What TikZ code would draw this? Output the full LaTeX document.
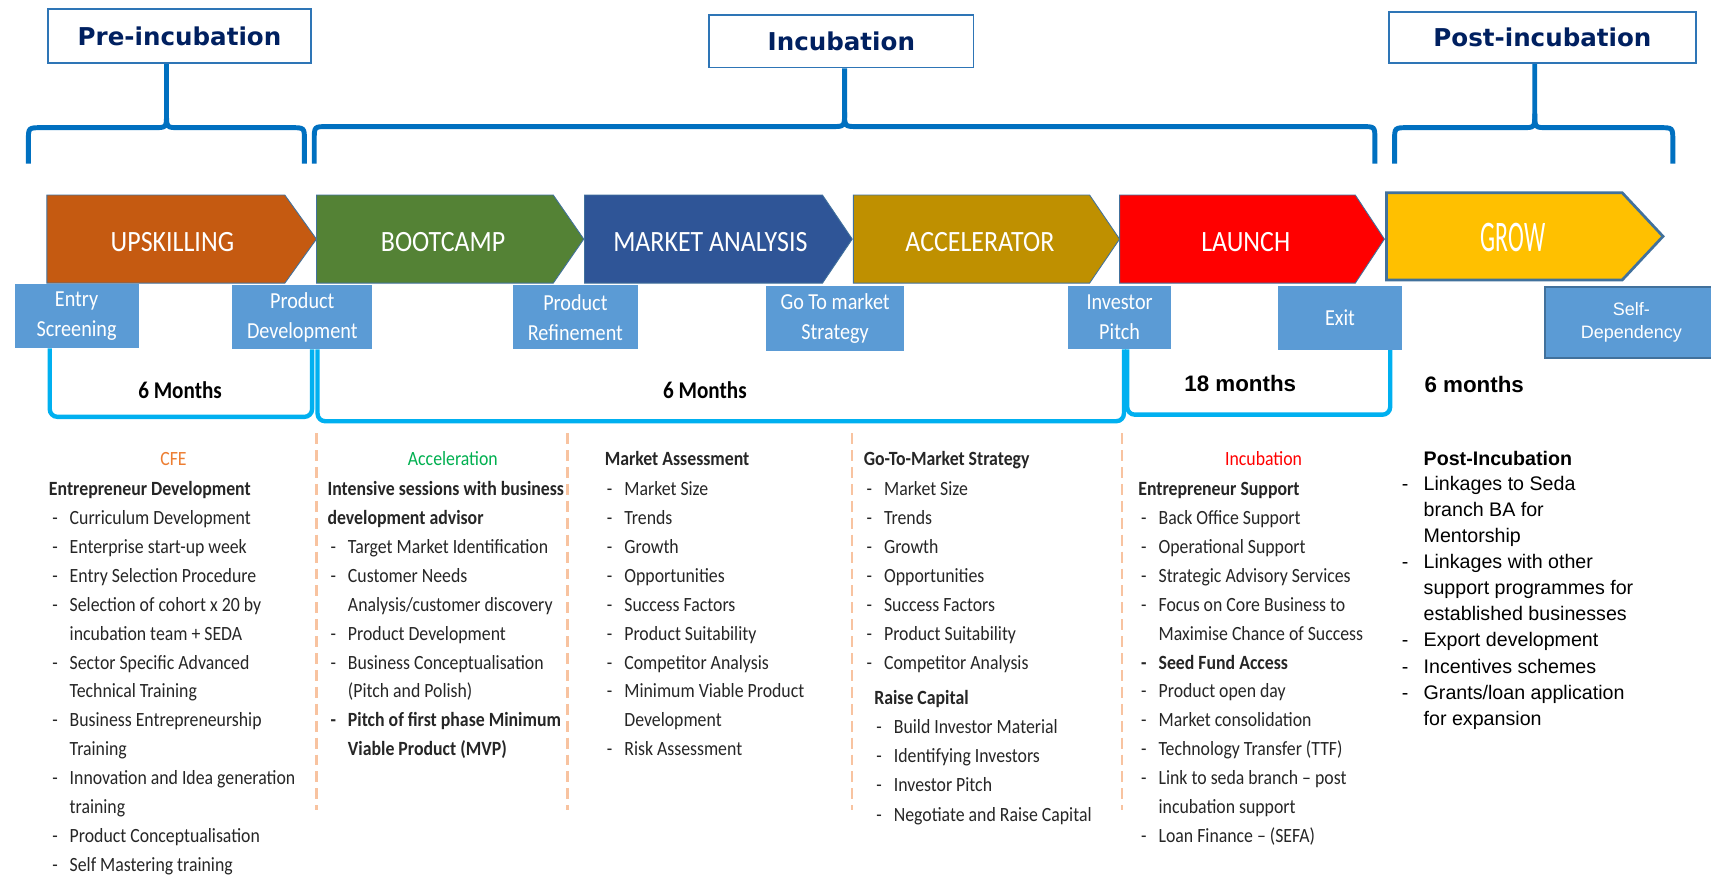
\documentclass[tikz,border=0pt]{standalone}
\usepackage{fontspec}
\usepackage{graphicx}
\setmainfont{Carlito}
\newfontfamily\calf[FakeStretch=0.88]{Carlito}
\newfontfamily\ari{Liberation Sans}
\newfontfamily\dvs{DejaVu Sans}
\definecolor{hdrblue}{HTML}{0070C0}
\definecolor{boxblue}{HTML}{2E75B6}
\definecolor{navy}{HTML}{002060}
\definecolor{cUp}{HTML}{C55A11}
\definecolor{cBoot}{HTML}{548235}
\definecolor{cMkt}{HTML}{2F5597}
\definecolor{cAcc}{HTML}{BF9000}
\definecolor{cLaunch}{HTML}{FF0000}
\definecolor{cGrow}{HTML}{FFC000}
\definecolor{edge}{HTML}{41719C}
\definecolor{msblue}{HTML}{5B9BD5}
\definecolor{cyanb}{HTML}{00B0F0}
\definecolor{dashor}{HTML}{F8C3A0}
\definecolor{cfe}{HTML}{ED7D31}
\definecolor{accg}{HTML}{00B050}
\newcounter{ln}
\newcommand\Ln[4][itm]{\stepcounter{ln}\node[#1,anchor=base west] (ln\theln) at (#2,#3) {#4};}
\newcommand\Dsh{\llap{-\hspace{11pt}}}
\newcommand\DshA{\llap{-\hspace{14pt}}}
\newcommand\chev[7]{\filldraw[fill=#6, draw=edge, line width=#7] (#1,#4) -- (#2,#4) -- (#3,{(#4+#5)/2}) -- (#2,#5) -- (#1,#5) -- cycle;}
\tikzset{
  hdr/.style={draw=boxblue, line width=1.5pt, fill=white, inner sep=0pt, text=navy, font=\dvs\bfseries\fontsize{22.5}{27}\selectfont},
  brc/.style={draw=hdrblue, line width=4.5pt},
  chevtxt/.style={text=white, inner sep=0pt, font=\calf\fontsize{27}{30}\selectfont},
  mstone/.style={fill=msblue, text=white, inner sep=0pt, align=center, font=\calf\fontsize{21}{27.5}\selectfont},
  cyb/.style={draw=cyanb, line width=4pt, rounded corners=7pt},
  dur/.style={inner sep=0pt, font=\calf\bfseries\fontsize{22}{26}\selectfont},
  durA/.style={inner sep=0pt, font=\ari\bfseries\fontsize{20.5}{24}\selectfont},
  colsep/.style={draw=dashor, line width=2pt, dash pattern=on 10pt off 5.5pt},
  itm/.style={inner sep=0pt, text=black!85, font=\calf\fontsize{18.5}{20}\selectfont},
  itmB/.style={itm, font=\calf\bfseries\fontsize{18.5}{20}\selectfont},
  itmA/.style={inner sep=0pt, text=black, font=\ari\fontsize{18}{20}\selectfont},
  itmAB/.style={itmA, font=\ari\bfseries\fontsize{18}{20}\selectfont},
}
\begin{document}
\begin{tikzpicture}[x=1pt,y=-1pt]
\useasboundingbox (0,0) rectangle (1568,804);
\fill[white] (0,0) rectangle (1568,804);

% header boxes
\node[hdr, minimum width=241, minimum height=50] (pre) at (164.5,33) {Pre-incubation};
\node[hdr, minimum width=242, minimum height=48] (inc) at (771,38) {Incubation};
\node[hdr, minimum width=281, minimum height=47] (post) at (1413.5,34.4) {Post-incubation};

% braces
\coordinate (preS) at (152.6,100);
\draw[brc] (26,150) -- (26,129) .. controls (26,117) .. (38,117) -- (140.6,117) .. controls (152.6,117) .. (152.6,104) -- (pre.south -| preS);
\draw[brc] (152.6,104) .. controls (152.6,117) .. (164.6,117) -- (267,117) .. controls (279,117) .. (279,129) -- (279,150);
\coordinate (incS) at (774,100);
\draw[brc] (288,150) -- (288,128) .. controls (288,116) .. (300,116) -- (762,116) .. controls (774,116) .. (774,103) -- (inc.south -| incS);
\draw[brc] (774,103) .. controls (774,116) .. (786,116) -- (1248,116) .. controls (1260,116) .. (1260,128) -- (1260,150);
\coordinate (postS) at (1406.5,100);
\draw[brc] (1278,150) -- (1278,129) .. controls (1278,117) .. (1290,117) -- (1394.5,117) .. controls (1406.5,117) .. (1406.5,104) -- (post.south -| postS);
\draw[brc] (1406.5,104) .. controls (1406.5,117) .. (1418.5,117) -- (1521,117) .. controls (1533,117) .. (1533,129) -- (1533,150);

% chevrons
\chev{43}{261}{290}{178.7}{259.5}{cUp}{0.8pt}
\chev{290}{507}{535}{178.7}{259.5}{cBoot}{0.8pt}
\chev{535.6}{753.7}{781}{178.7}{259.5}{cMkt}{0.8pt}
\chev{782}{998.5}{1026}{178.7}{259.5}{cAcc}{0.8pt}
\chev{1026}{1242}{1268.7}{178.7}{259.5}{cLaunch}{0.8pt}
\chev{1270.5}{1486.6}{1524}{176.6}{256.6}{cGrow}{2.5pt}
\node[chevtxt] (upsk) at (158,222) {UPSKILLING};
\node[chevtxt] (boot) at (406,222) {BOOTCAMP};
\node[chevtxt] (mkt) at (651,222) {MARKET ANALYSIS};
\node[chevtxt] (accel) at (898,222) {ACCELERATOR};
\node[chevtxt] (launch) at (1141.6,222) {LAUNCH};
\node[inner sep=0pt, text=white, font=\calf\fontsize{40}{44}\selectfont] (grow) at (1386.6,217.5) {\scalebox{0.62}[1]{GROW}};

% milestone boxes
\node[mstone, minimum width=113.7, minimum height=59] (entry) at (70.2,289.5) {Entry\\Screening};
\node[mstone, minimum width=128, minimum height=58.5] (pdev) at (277,290.8) {Product\\Development};
\node[mstone, minimum width=114.7, minimum height=58.5] (pref) at (527.3,290.8) {Product\\Refinement};
\node[mstone, minimum width=126.5, minimum height=60] (gtm) at (765.3,292) {Go To market\\Strategy};
\node[mstone, minimum width=94, minimum height=58] (inv) at (1026,291) {Investor\\Pitch};
\node[mstone, minimum width=114, minimum height=58.7] (exit) at (1228,291.3) {Exit};
\node[mstone, draw=edge, line width=2pt, minimum width=158, minimum height=65.3, font=\ari\fontsize{16.5}{20.5}\selectfont] (selfdep) at (1495,295.4) {Self-\\Dependency};

% duration brackets
\coordinate (b1l) at (45.6,382); \coordinate (b1r) at (286,382);
\draw[cyb] (entry.south -| b1l) -- (b1l) -- (b1r) -- (pdev.south -| b1r);
\coordinate (b2l) at (291,386); \coordinate (b2r) at (1030,386);
\draw[cyb] (pdev.south -| b2l) -- (b2l) -- (b2r) -- (inv.south -| b2r);
\coordinate (b3l) at (1033,380); \coordinate (b3r) at (1274,380);
\draw[cyb] (inv.south -| b3l) -- (b3l) -- (b3r) -- (exit.south -| b3r);

\node[dur] (d1) at (165,358) {6 Months};
\node[dur] (d2) at (646,358) {6 Months};
\node[durA] (d3) at (1136.6,351) {18 months};
\node[durA] (d4) at (1351,352) {6 months};

% column separators
\draw[colsep] (290,397) -- (290,742);
\draw[colsep] (520,397) -- (520,742);
\draw[colsep] (781,397) -- (781,742);
\draw[colsep] (1028,397) -- (1028,742);

% column 1
\node[itm, text=cfe, anchor=base] (cfe) at (159,427) {CFE};
\Ln[itmB]{44.7}{454.5}{Entrepreneur Development}
\Ln{63.7}{480.9}{\Dsh Curriculum Development}
\Ln{63.7}{507.4}{\Dsh Enterprise start-up week}
\Ln{63.7}{533.8}{\Dsh Entry Selection Procedure}
\Ln{63.7}{560.3}{\Dsh Selection of cohort x 20 by}
\Ln{63.7}{586.7}{incubation team + SEDA}
\Ln{63.7}{613.1}{\Dsh Sector Specific Advanced}
\Ln{63.7}{639.6}{Technical Training}
\Ln{63.7}{666.0}{\Dsh Business Entrepreneurship}
\Ln{63.7}{692.5}{Training}
\Ln{63.7}{718.9}{\Dsh Innovation and Idea generation}
\Ln{63.7}{745.3}{training}
\Ln{63.7}{771.8}{\Dsh Product Conceptualisation}
\Ln{63.7}{798.2}{\Dsh Self Mastering training}

% column 2
\node[itm, text=accg, anchor=base] (acc) at (415,427) {Acceleration};
\Ln[itmB]{300}{454.5}{Intensive sessions with business}
\Ln[itmB]{300}{480.9}{development advisor}
\Ln{318.7}{507.4}{\Dsh Target Market Identification}
\Ln{318.7}{533.8}{\Dsh Customer Needs}
\Ln{318.7}{560.3}{Analysis/customer discovery}
\Ln{318.7}{586.7}{\Dsh Product Development}
\Ln{318.7}{613.1}{\Dsh Business Conceptualisation}
\Ln{318.7}{639.6}{(Pitch and Polish)}
\Ln[itmB]{318.7}{666.0}{\Dsh Pitch of first phase Minimum}
\Ln[itmB]{318.7}{692.5}{Viable Product (MVP)}

% column 3
\Ln[itmB]{554}{427}{Market Assessment}
\Ln{572}{454.5}{\Dsh Market Size}
\Ln{572}{480.9}{\Dsh Trends}
\Ln{572}{507.4}{\Dsh Growth}
\Ln{572}{533.8}{\Dsh Opportunities}
\Ln{572}{560.3}{\Dsh Success Factors}
\Ln{572}{586.7}{\Dsh Product Suitability}
\Ln{572}{613.1}{\Dsh Competitor Analysis}
\Ln{572}{639.6}{\Dsh Minimum Viable Product}
\Ln{572}{666.0}{Development}
\Ln{572}{692.5}{\Dsh Risk Assessment}

% column 4
\Ln[itmB]{791.4}{427}{Go-To-Market Strategy}
\Ln{810}{454.5}{\Dsh Market Size}
\Ln{810}{480.9}{\Dsh Trends}
\Ln{810}{507.4}{\Dsh Growth}
\Ln{810}{533.8}{\Dsh Opportunities}
\Ln{810}{560.3}{\Dsh Success Factors}
\Ln{810}{586.7}{\Dsh Product Suitability}
\Ln{810}{613.1}{\Dsh Competitor Analysis}
\Ln[itmB]{801}{645.5}{Raise Capital}
\Ln{819}{672.3}{\Dsh Build Investor Material}
\Ln{819}{698.9}{\Dsh Identifying Investors}
\Ln{819}{725.5}{\Dsh Investor Pitch}
\Ln{819}{752.5}{\Dsh Negotiate and Raise Capital}

% column 5
\node[itm, text=cLaunch, anchor=base] (incl) at (1158,427) {Incubation};
\Ln[itmB]{1043}{454.5}{Entrepreneur Support}
\Ln{1061.6}{480.9}{\Dsh Back Office Support}
\Ln{1061.6}{507.4}{\Dsh Operational Support}
\Ln{1061.6}{533.8}{\Dsh Strategic Advisory Services}
\Ln{1061.6}{560.3}{\Dsh Focus on Core Business to}
\Ln{1061.6}{586.7}{Maximise Chance of Success}
\Ln[itmB]{1061.6}{613.1}{\Dsh Seed Fund Access}
\Ln{1061.6}{639.6}{\Dsh Product open day}
\Ln{1061.6}{666.0}{\Dsh Market consolidation}
\Ln{1061.6}{692.5}{\Dsh Technology Transfer (TTF)}
\Ln{1061.6}{718.9}{\Dsh Link to seda branch – post}
\Ln{1061.6}{745.3}{incubation support}
\Ln{1061.6}{771.8}{\Dsh Loan Finance – (SEFA)}

% column 6
\Ln[itmAB]{1304.5}{426.5}{Post-Incubation}
\Ln[itmA]{1304.5}{449.5}{\DshA Linkages to Seda}
\Ln[itmA]{1304.5}{473.4}{branch BA for}
\Ln[itmA]{1304.5}{497.3}{Mentorship}
\Ln[itmA]{1304.5}{521.2}{\DshA Linkages with other}
\Ln[itmA]{1304.5}{545.1}{support programmes for}
\Ln[itmA]{1304.5}{569.0}{established businesses}
\Ln[itmA]{1304.5}{592.9}{\DshA Export development}
\Ln[itmA]{1304.5}{616.8}{\DshA Incentives schemes}
\Ln[itmA]{1304.5}{640.7}{\DshA Grants/loan application}
\Ln[itmA]{1304.5}{664.6}{for expansion}
\end{tikzpicture}
\end{document}
